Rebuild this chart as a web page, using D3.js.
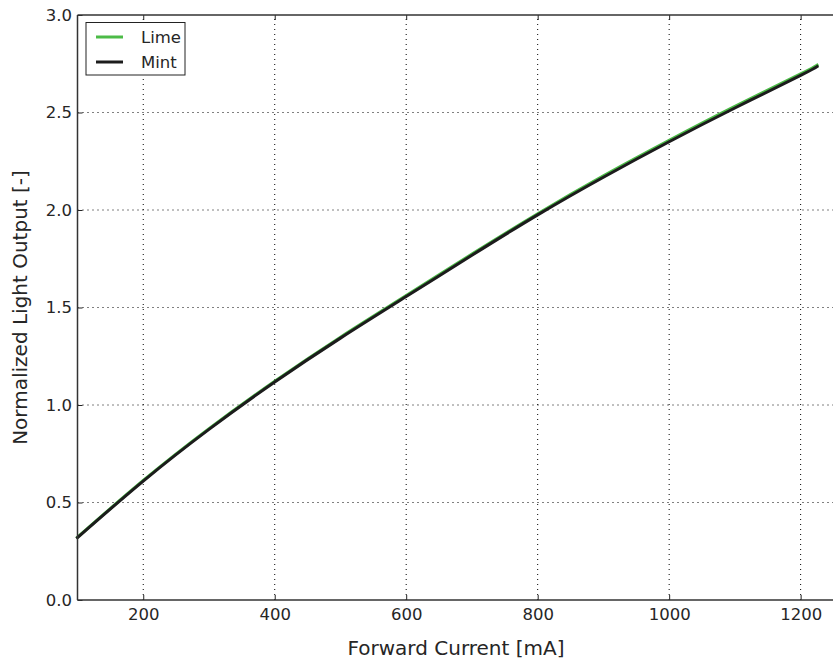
<!DOCTYPE html>
<html><head><meta charset="utf-8">
<script src="https://cdn.jsdelivr.net/npm/d3@7"></script>
<style>body{margin:0;background:#fff}svg{display:block}text{font-family:"DejaVu Sans",sans-serif;fill:#262626}</style>
</head><body>
<script>
const current = [100, 200, 300, 400, 500, 600, 700, 800, 900, 1000, 1100, 1200, 1225];
const lime = [0.322, 0.613, 0.879, 1.122, 1.348, 1.561, 1.774, 1.981, 2.175, 2.357, 2.531, 2.698, 2.743];
const mint = [0.32, 0.61, 0.875, 1.118, 1.343, 1.556, 1.768, 1.975, 2.168, 2.35, 2.523, 2.69, 2.735];
const xTicks = [200, 400, 600, 800, 1000, 1200];
const yTicks = [0.0, 0.5, 1.0, 1.5, 2.0, 2.5, 3.0];
const seriesNames = ["Lime", "Mint"];
const seriesColors = ["#4cbb47", "#1c1c1c"];

const W = 833, H = 665;
const mL = 77.5;
const svg = d3.select("body").append("svg").attr("width", W).attr("height", H);
const x = d3.scaleLinear().domain([100, 1250]).range([mL, mL + 1150 * 0.6574]);
const y = d3.scaleLinear().domain([0, 3]).range([600, 15]);
const x0 = mL, x1 = W + 5, y0 = 600, y1 = 15;

// grid
const g = svg.append("g");
g.selectAll(".gx").data(xTicks).join("line")
  .attr("x1", d => x(d)).attr("x2", d => x(d)).attr("y1", y0).attr("y2", y1)
  .attr("stroke", "#000").attr("stroke-width", 1).attr("stroke-dasharray", "1,4");
g.selectAll(".gy").data(yTicks.slice(1, -1)).join("line")
  .attr("x1", x0).attr("x2", x1).attr("y1", d => y(d)).attr("y2", d => y(d))
  .attr("stroke", "#000").attr("stroke-width", 1).attr("stroke-dasharray", "1,4");

// series
const lineGen = d3.line().x((d, i) => x(current[i])).y(d => y(d)).curve(d3.curveNatural);
[lime, mint].forEach((s, k) => {
  svg.append("path").datum(s).attr("d", lineGen).attr("fill", "none")
    .attr("stroke", seriesColors[k]).attr("stroke-width", 3).attr("stroke-linecap", "square");
});

// axes (inward ticks)
const axBottom = svg.append("g").attr("transform", `translate(0,${y0})`)
  .call(d3.axisBottom(x).tickValues(xTicks).tickSize(-5).tickPadding(8).tickFormat(d3.format("d")));
const axTop = svg.append("g").attr("transform", `translate(0,${y1})`)
  .call(d3.axisTop(x).tickValues(xTicks).tickSize(-5).tickFormat(""));
const axLeft = svg.append("g").attr("transform", `translate(${x0},0)`)
  .call(d3.axisLeft(y).tickValues(yTicks).tickSize(-5).tickPadding(5.5).tickFormat(d3.format(".1f")));
[axBottom, axTop, axLeft].forEach(a => {
  a.select(".domain").remove();
  a.selectAll(".tick line").attr("stroke", "#222").attr("stroke-width", 1);
  a.selectAll("text").attr("font-size", 16.5).attr("fill", "#262626").style("font-family", "DejaVu Sans");
});
// spines
svg.append("line").attr("x1", x0).attr("x2", x1).attr("y1", y0).attr("y2", y0).attr("stroke", "#333").attr("stroke-width", 1.5);
svg.append("line").attr("x1", x0).attr("x2", x1).attr("y1", y1).attr("y2", y1).attr("stroke", "#333").attr("stroke-width", 1.5);
svg.append("line").attr("x1", x0).attr("x2", x0).attr("y1", y0).attr("y2", y1).attr("stroke", "#333").attr("stroke-width", 1.5);

// labels
svg.append("text").attr("x", 456).attr("y", 655).attr("text-anchor", "middle").attr("font-size", 20).text("Forward Current [mA]");
svg.append("text").attr("transform", `translate(27,${(y0 + y1) / 2}) rotate(-90)`).attr("text-anchor", "middle").attr("font-size", 20).text("Normalized Light Output [-]");

// legend
const lg = svg.append("g");
lg.append("rect").attr("x", 86).attr("y", 22.5).attr("width", 99).attr("height", 52.5)
  .attr("fill", "#fff").attr("stroke", "#222").attr("stroke-width", 1);
seriesNames.forEach((n, i) => {
  const yy = 37 + i * 25;
  lg.append("line").attr("x1", 96).attr("x2", 123).attr("y1", yy).attr("y2", yy)
    .attr("stroke", seriesColors[i]).attr("stroke-width", 3);
  lg.append("text").attr("x", 141).attr("y", yy + 6).attr("font-size", 16.5).text(n);
});
</script>
</body></html>
